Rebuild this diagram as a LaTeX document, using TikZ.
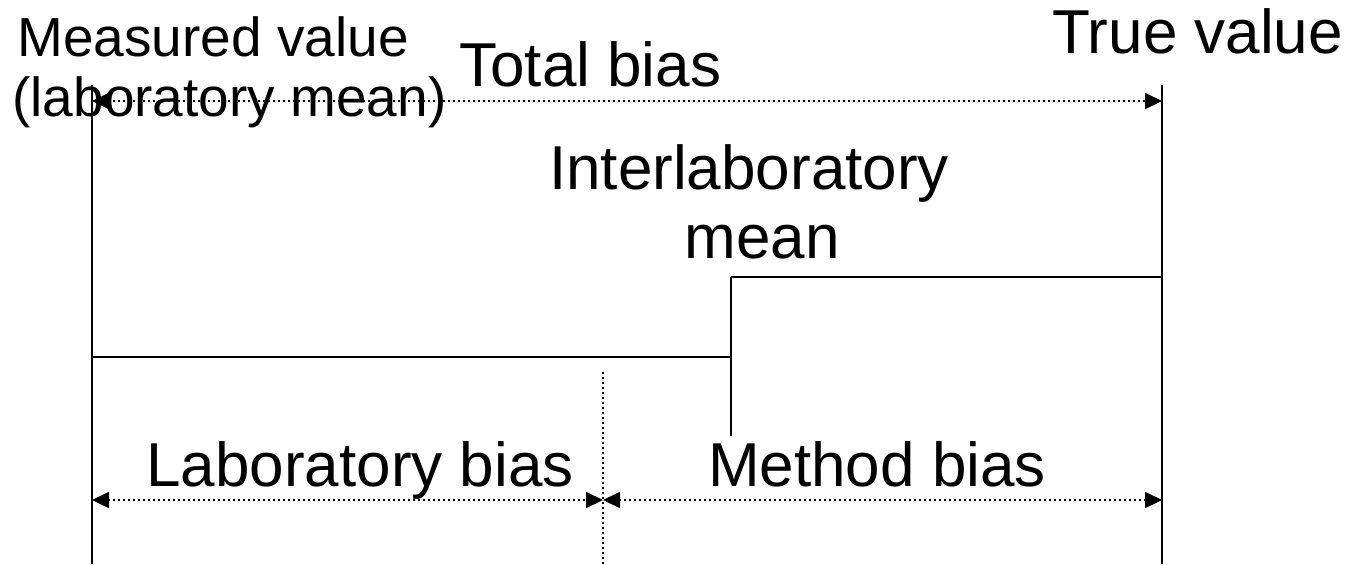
\documentclass[tikz,border=0pt]{standalone}
\usepackage{fontspec}
\setmainfont{Liberation Sans}
\usetikzlibrary{arrows.meta}
\begin{document}
\begin{tikzpicture}[x=0.5pt,y=-0.5pt,
  bigtxt/.style={inner sep=0pt,font=\fontsize{31pt}{36pt}\selectfont},
  smalltxt/.style={inner sep=0pt,font=\fontsize{27.5pt}{32pt}\selectfont},
  solidline/.style={line width=1.45pt},
  dotline/.style={line width=1.05pt,dash pattern=on 1pt off 1.5pt},
  dimarrow/.style={dotline,{Triangle[length=8.5pt,width=8pt]}-{Triangle[length=8.5pt,width=8pt]}}]
\useasboundingbox (0,0) rectangle (1356,564);
% texts
\node[smalltxt,anchor=base west] (meas1) at (17,56) {Measured value};
\node[smalltxt,anchor=base west] (meas2) at (12,116) {(laboratory mean)};
\node[bigtxt,anchor=base west] (total) at (459,86) {Total bias};
\node[bigtxt,anchor=base west] (true) at (1052,53) {True value};
\node[bigtxt,anchor=base] (inter1) at (749,189) {Interlaboratory};
\node[bigtxt,anchor=base] (inter2) at (762,258) {mean};
\node[bigtxt,anchor=base] (labbias) at (360,486) {Laboratory bias};
\node[bigtxt,anchor=base] (methbias) at (877,486) {Method bias};
% coordinates
\coordinate (Ltop) at (92,85);
\coordinate (Lbot) at (92,564);
\coordinate (Rtop) at (1162,85);
\coordinate (Rbot) at (1162,564);
\coordinate (Ltot) at (92,101);
\coordinate (Rtot) at (1162,101);
\coordinate (Mtop) at (731,277);
\coordinate (Mmid) at (731,357);
\coordinate (Mbot) at (731,436);
\coordinate (Rmean) at (1162,277);
\coordinate (Lmean) at (92,357);
\coordinate (Dtop) at (603,372);
\coordinate (Dbot) at (603,564);
\coordinate (Lb) at (92,500);
\coordinate (Db) at (603,500);
\coordinate (Rb) at (1162,500);
% solid lines
\draw[solidline] (Ltop) -- (Lbot);
\draw[solidline] (Rtop) -- (Rbot);
\draw[solidline] (Mtop) -- (Rmean);
\draw[solidline] (Lmean) -- (Mmid);
\draw[solidline] (Mtop) -- (Mbot);
% dotted
\draw[dotline] (Dtop) -- (Dbot);
\draw[dimarrow] (Ltot) -- (Rtot);
\draw[dimarrow] (Lb) -- (Db);
\draw[dimarrow] (Db) -- (Rb);
\end{tikzpicture}
\end{document}
